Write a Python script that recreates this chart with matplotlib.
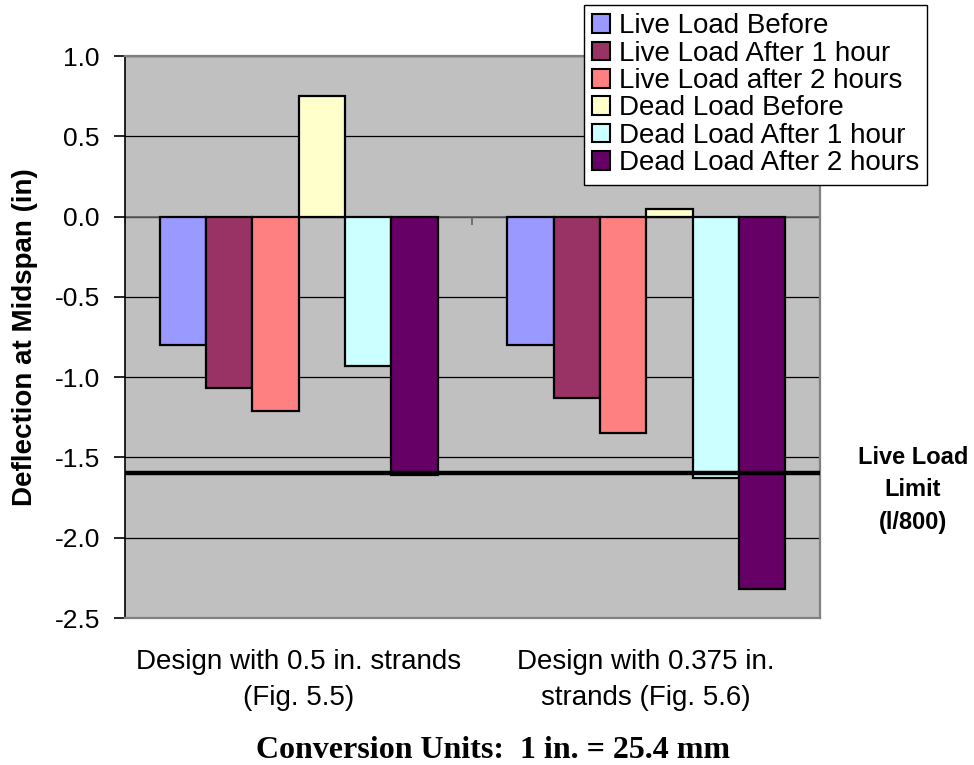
import matplotlib
matplotlib.use("Agg")
import matplotlib.pyplot as plt
import matplotlib.transforms as mtransforms
import numpy as np
from matplotlib.patches import Patch

categories = ["Design with 0.5 in. strands\n(Fig. 5.5)", "Design with 0.375 in.\nstrands (Fig. 5.6)"]
series_names = ["Live Load Before", "Live Load After 1 hour", "Live Load after 2 hours",
                "Dead Load Before", "Dead Load After 1 hour", "Dead Load After 2 hours"]
live_before = [-0.80, -0.80]
live_1h = [-1.07, -1.13]
live_2h = [-1.21, -1.35]
dead_before = [0.75, 0.05]
dead_1h = [-0.93, -1.63]
dead_2h = [-1.61, -2.32]
limit_value = -1.60
yticks = [1.0, 0.5, 0.0, -0.5, -1.0, -1.5, -2.0, -2.5]

colors = ["#9999FF", "#993366", "#FF8080", "#FFFFCC", "#CCFFFF", "#660066"]
series = [live_before, live_1h, live_2h, dead_before, dead_1h, dead_2h]

plt.rcParams['font.family'] = ['Liberation Sans', 'DejaVu Sans']

W, H = 974, 765
fig = plt.figure(figsize=(W / 100, H / 100), dpi=100)
ax = fig.add_axes([125 / W, 1 - 618 / H, (820 - 125) / W, (618 - 56) / H])
ax.set_facecolor("#C0C0C0")

x = np.arange(len(categories))
bw = 1 / 7.5
for i, (vals, col) in enumerate(zip(series, colors)):
    off = (i - 2.5) * bw
    ax.bar(x + off, vals, width=bw, color=col, edgecolor="black", linewidth=1.6, zorder=3)

ax.set_xlim(-0.5, 1.5)
ax.set_ylim(-2.5, 1.0)
ax.set_yticks(yticks)
ax.set_yticklabels([f"{v:.1f}" for v in yticks], fontsize=19)
ax.yaxis.grid(True, color="black", linewidth=0.9, zorder=1)
ax.set_axisbelow(True)

ax.axhline(limit_value, color="black", linewidth=3.2, zorder=4)

for s in ["top", "right", "bottom"]:
    ax.spines[s].set_color("#808080")
    ax.spines[s].set_linewidth(1.6)
ax.spines["left"].set_color("black")
ax.spines["left"].set_linewidth(1.2)
ax.axhline(0, color="#606060", linewidth=1.2, zorder=2)
ax.set_xticks([])
ax.vlines([-0.5, 0.5, 1.5], -0.05, 0, color="#606060", linewidth=1.2, zorder=2)
ax.tick_params(axis="y", direction="out", length=8, width=1.2, pad=10)

trans = mtransforms.blended_transform_factory(ax.transData, fig.transFigure)
for xi, lab in zip(x, categories):
    ax.text(xi, 1 - 680 / H, lab, ha="center", va="center", fontsize=20,
            linespacing=1.5, transform=trans)

fig.text(25 / W, 1 - 337 / H, "Deflection at Midspan (in)", rotation=90, ha="center", va="center",
         fontsize=20, fontweight="bold")

fig.text(913 / W, 1 - 490 / H, "Live Load\nLimit\n(l/800)", ha="center", va="center",
         fontsize=17, fontweight="bold", linespacing=1.55)

fig.text(493 / W, 1 - 750 / H, "Conversion Units:  1 in. = 25.4 mm", ha="center", va="center",
         fontsize=23, fontweight="bold", family=["Liberation Serif", "DejaVu Serif"])

handles = [Patch(facecolor=c, edgecolor="black", linewidth=1.5, label=n) for c, n in zip(colors, series_names)]
leg = fig.legend(handles=handles, loc="upper left", bbox_to_anchor=(584 / W, 1 - 5 / H),
                 fontsize=20, frameon=True, fancybox=False, edgecolor="black",
                 handlelength=0.65, handleheight=0.65, handletextpad=0.3, labelspacing=0.05,
                 borderpad=0.3, borderaxespad=0)
leg.get_frame().set_linewidth(1.0)
leg.get_frame().set_facecolor("white")
leg.get_frame().set_alpha(1)

fig.savefig("out.png", dpi=100, facecolor="white")
